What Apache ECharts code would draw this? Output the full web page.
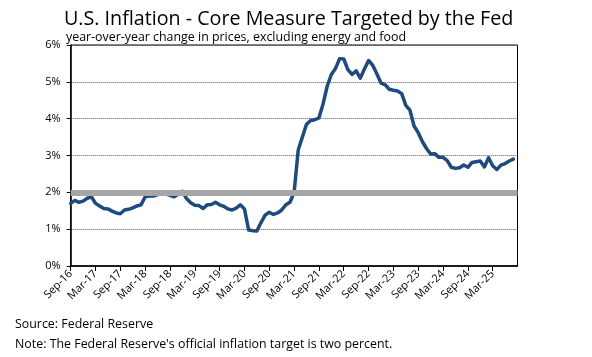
<!DOCTYPE html>
<html>
<head>
<meta charset="utf-8">
<script src="https://cdn.jsdelivr.net/npm/echarts@6/dist/echarts.min.js"></script>
<style>
html,body{margin:0;padding:0;background:#fff;}
#chart{width:592px;height:357px;}
</style>
</head>
<body>
<div id="chart"></div>
<script>
const months = ['Jan','Feb','Mar','Apr','May','Jun','Jul','Aug','Sep','Oct','Nov','Dec'];
// Monthly categories Sep-16 .. Aug-25
const categories = [];
for (let y = 2016, m = 8; !(y === 2025 && m === 8); ) {
  categories.push(months[m] + '-' + String(y).slice(2));
  m++; if (m === 12) { m = 0; y++; }
}
categories.push('Aug-25');

// Core PCE year-over-year change (%)
const corePCE = [
  1.70, 1.78, 1.73, 1.76,                                           // Sep-Dec 2016
  1.84, 1.88, 1.70, 1.63, 1.56, 1.55, 1.49, 1.44, 1.42, 1.52, 1.54, 1.58, // 2017
  1.63, 1.66, 1.88, 1.90, 1.90, 1.94, 1.97, 1.95, 1.92, 1.88, 1.95, 2.03, // 2018
  1.83, 1.72, 1.65, 1.64, 1.56, 1.66, 1.67, 1.73, 1.66, 1.62, 1.55, 1.52, // 2019
  1.57, 1.66, 1.55, 0.98, 0.96, 0.95, 1.18, 1.38, 1.46, 1.40, 1.44, 1.52, // 2020
  1.66, 1.73, 2.00, 3.15, 3.50, 3.85, 3.95, 3.97, 4.02, 4.40, 4.88, 5.20, // 2021
  5.36, 5.63, 5.62, 5.33, 5.20, 5.30, 5.10, 5.35, 5.58, 5.45, 5.22, 4.97, // 2022
  4.92, 4.80, 4.77, 4.75, 4.68, 4.36, 4.23, 3.80, 3.62, 3.38, 3.19, 3.04, // 2023
  3.05, 2.95, 2.95, 2.86, 2.68, 2.65, 2.67, 2.74, 2.68, 2.81, 2.83, 2.85, // 2024
  2.69, 2.94, 2.72, 2.62, 2.74, 2.78, 2.85, 2.90                          // Jan-Aug 2025
];

const targetRate = 2;
const yTicks = [0, 1, 2, 3, 4, 5, 6];
const labelEvery = 6;

const titleText = 'U.S. Inflation - Core Measure Targeted by the Fed';
const subtitleText = 'year-over-year change in prices, excluding energy and food';
const sourceText = 'Source: Federal Reserve';
const noteText = "Note: The Federal Reserve's official inflation target is two percent.";

const chart = echarts.init(document.getElementById('chart'), null, {renderer: 'canvas'});
const font = 'Open Sans, Liberation Sans, sans-serif';
const showIdx = (idx) => idx % labelEvery === 0 && idx + labelEvery <= categories.length;

chart.setOption({
  animation: false,
  backgroundColor: '#fff',
  title: [
    {text: titleText, left: 59, top: 4, padding: 5,
     textStyle: {fontFamily: font, fontSize: 19.7, fontWeight: 'normal', color: '#000'}},
    {text: subtitleText, left: 61, top: 26, padding: 5,
     textStyle: {fontFamily: font, fontSize: 12.4, fontWeight: 'normal', color: '#000'}},
    {text: sourceText, left: 10, top: 313, padding: 5,
     textStyle: {fontFamily: font, fontSize: 12.4, fontWeight: 'normal', color: '#000'}},
    {text: noteText, left: 10, top: 333, padding: 5,
     textStyle: {fontFamily: font, fontSize: 12.4, fontWeight: 'normal', color: '#000'}}
  ],
  grid: {left: 70.7, right: 74.5, top: 45, bottom: 91, show: true,
         borderColor: '#000', borderWidth: 1, backgroundColor: 'transparent'},
  xAxis: {
    type: 'category', data: categories, boundaryGap: false,
    axisLine: {lineStyle: {color: '#000', width: 1.5}},
    axisTick: {interval: showIdx, length: 5, lineStyle: {color: '#000'}},
    axisLabel: {interval: showIdx, rotate: 45, fontFamily: font, fontSize: 11, color: '#000', margin: 6},
    splitLine: {show: false}
  },
  yAxis: {
    type: 'value', min: yTicks[0], max: yTicks[yTicks.length - 1], interval: 1,
    axisLine: {show: true, lineStyle: {color: '#000', width: 1.5}},
    axisTick: {show: true, length: 4, lineStyle: {color: '#000'}},
    axisLabel: {formatter: '{value}%', fontFamily: font, fontSize: 11, color: '#000', margin: 10},
    splitLine: {show: true, lineStyle: {type: 'dotted', color: '#555', width: 1}}
  },
  series: [
    {
      type: 'line', data: [], z: 1, silent: true,
      markLine: {
        silent: true, symbol: 'none', label: {show: false},
        lineStyle: {color: '#a6a6a6', width: 6, type: 'solid'},
        data: [{yAxis: targetRate}]
      }
    },
    {
      type: 'line', data: corePCE, z: 3, symbol: 'none', smooth: false,
      lineStyle: {color: '#1f4a7e', width: 3.5, join: 'round', cap: 'round'}
    }
  ]
});
</script>
</body>
</html>
